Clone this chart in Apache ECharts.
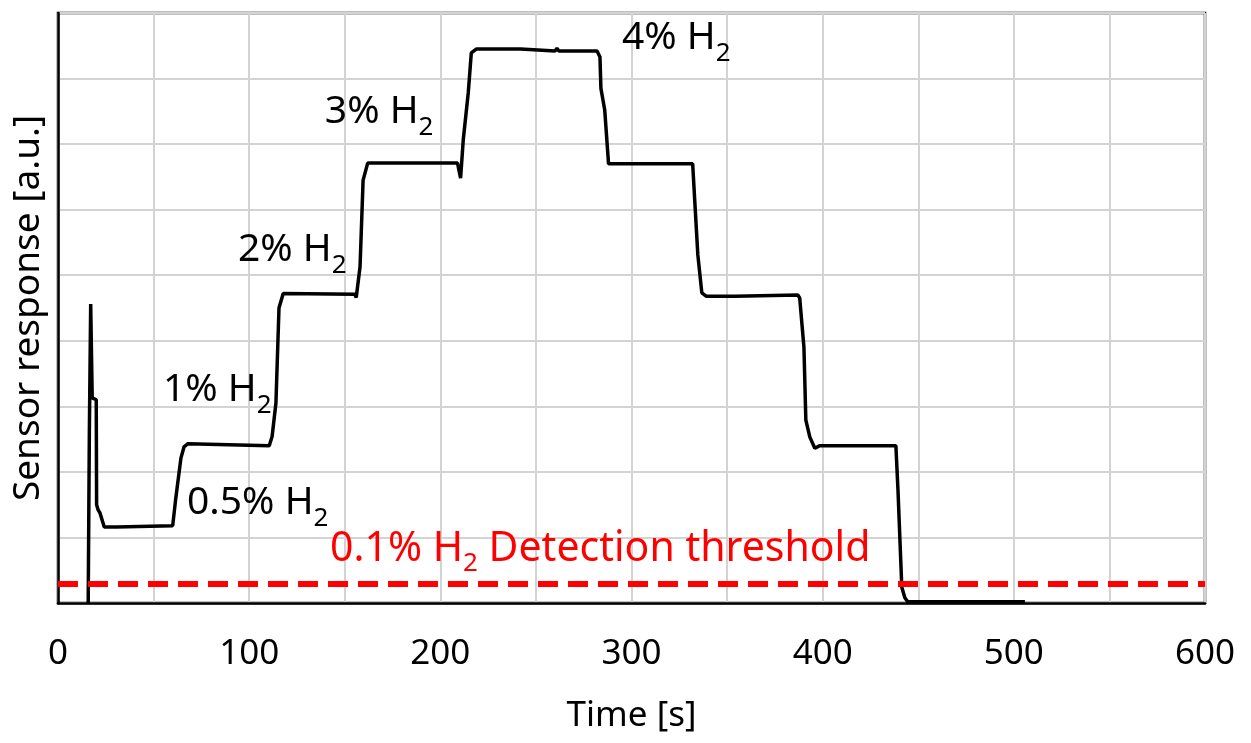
<!DOCTYPE html>
<html>
<head>
<meta charset="utf-8">
<script src="https://cdn.jsdelivr.net/npm/echarts@6/dist/echarts.min.js"></script>
<style>
html,body{margin:0;padding:0;background:#fff;}
#main{width:1251px;height:743px;}
</style>
</head>
<body>
<div id="main"></div>
<script>
// Time [s]
var timeS = [15.8, 16.4, 17.1, 17.9, 20.0, 20.2, 21.0, 22.0, 24.2, 30.5, 31.5, 60.0, 61.5, 64.3, 65.9, 68.0, 110.5, 112.0, 114.0, 115.6, 117.8, 155.3, 156.0, 158.0, 159.6, 162.0, 209.0, 210.6, 212.0, 214.6, 216.2, 218.8, 242.0, 243.0, 260.0, 261.0, 262.0, 282.0, 283.5, 284.0, 286.0, 288.0, 332.0, 333.0, 334.7, 336.8, 339.0, 354.0, 355.0, 387.0, 388.0, 390.2, 391.2, 393.3, 395.9, 398.5, 438.3, 439.4, 441.4, 443.0, 444.5, 505.8];
// Sensor response [a.u.]
var response = [0.0, 2.6, 4.56, 3.13, 3.10, 1.50, 1.42, 1.37, 1.16, 1.16, 1.18, 1.18, 1.57, 2.21, 2.38, 2.43, 2.40, 2.54, 3.05, 4.50, 4.72, 4.71, 4.66, 5.13, 6.45, 6.71, 6.71, 6.48, 7.07, 7.78, 8.39, 8.45, 8.45, 8.42, 8.42, 8.46, 8.42, 8.42, 8.33, 7.85, 7.52, 6.70, 6.70, 6.18, 5.31, 4.73, 4.68, 4.68, 4.70, 4.70, 4.65, 3.90, 2.79, 2.53, 2.36, 2.40, 2.40, 1.72, 0.24, 0.08, 0.02, 0.02];
var thresholdValue = 0.30;
var xTickLabels = ['0', '100', '200', '300', '400', '500', '600'];
// annotation texts and their anchor (left edge, vertical middle) in data coordinates
var annoMain = ['4% H', '3% H', '2% H', '1% H', '0.5% H', '0.1% H'];
var annoSub = ['2', '2', '2', '2', '2', '2'];
var annoTail = ['', '', '', '', '', ' Detection threshold'];
var annoT = [295, 139.6, 94.1, 54.9, 67.5, 142.3];
var annoV = [8.58, 7.45, 5.35, 3.21, 1.49, 0.80];
var annoColor = ['#000000', '#000000', '#000000', '#000000', '#000000', '#ff0000'];

var FONT = '"Noto Sans", "Open Sans", sans-serif';
var lineData = timeS.map(function (t, i) { return [t, response[i]]; });
var annoData = annoT.map(function (t, i) {
  var big = annoTail[i] ? 41 : 39;
  return {
    value: [t, annoV[i]],
    label: {
      formatter: '{n|' + annoMain[i] + '}{s|' + annoSub[i] + '}' + (annoTail[i] ? '{n|' + annoTail[i] + '}' : ''),
      rich: {
        n: { fontSize: big, fontFamily: FONT, color: annoColor[i], verticalAlign: 'top', lineHeight: 44 },
        s: { fontSize: 26, fontFamily: FONT, color: annoColor[i], verticalAlign: 'top', lineHeight: 28, padding: [22, 0, 0, 0] }
      }
    }
  };
});

var chart = echarts.init(document.getElementById('main'), null, { renderer: 'canvas' });
chart.setOption({
  animation: false,
  backgroundColor: '#fff',
  grid: { left: 58, right: 46, top: 13, bottom: 140, show: true, borderColor: '#000', borderWidth: 2.5, backgroundColor: 'transparent' },
  xAxis: {
    type: 'value', min: 0, max: 600, interval: 50,
    name: 'Time [s]', nameLocation: 'middle', nameGap: 96,
    nameTextStyle: { fontSize: 35, fontFamily: FONT, color: '#000' },
    axisLine: { show: true, lineStyle: { color: '#000', width: 2.5 } },
    axisTick: { show: false },
    axisLabel: {
      fontSize: 35, fontFamily: FONT, color: '#000', margin: 34,
      formatter: function (v) { return v % 100 === 0 ? xTickLabels[v / 100] : ''; }
    },
    splitLine: { show: true, lineStyle: { color: '#d3d3d3', width: 2 } }
  },
  yAxis: {
    type: 'value', min: 0, max: 9, interval: 1,
    name: 'Sensor response [a.u.]', nameLocation: 'middle', nameGap: 11,
    nameTextStyle: { fontSize: 37, fontFamily: FONT, color: '#000' },
    axisLine: { show: true, lineStyle: { color: '#000', width: 2.5 } },
    axisTick: { show: false },
    axisLabel: { show: false },
    splitLine: { show: true, lineStyle: { color: '#d3d3d3', width: 2 } }
  },
  series: [
    {
      type: 'line', data: lineData, showSymbol: false, symbol: 'none',
      lineStyle: { color: '#000', width: 3.5 },
      markLine: {
        silent: true, symbol: 'none', label: { show: false },
        lineStyle: { color: '#ff0000', width: 6, type: [20, 10], opacity: 1 },
        data: [{ yAxis: thresholdValue }]
      },
      z: 3
    },
    {
      type: 'scatter', data: annoData, symbolSize: 0, silent: true,
      itemStyle: { opacity: 1, color: 'rgba(0,0,0,0)' },
      label: { show: true, position: 'inside', align: 'left', verticalAlign: 'middle', opacity: 1 },
      emphasis: { disabled: true },
      z: 5
    }
  ]
});
</script>
</body>
</html>
